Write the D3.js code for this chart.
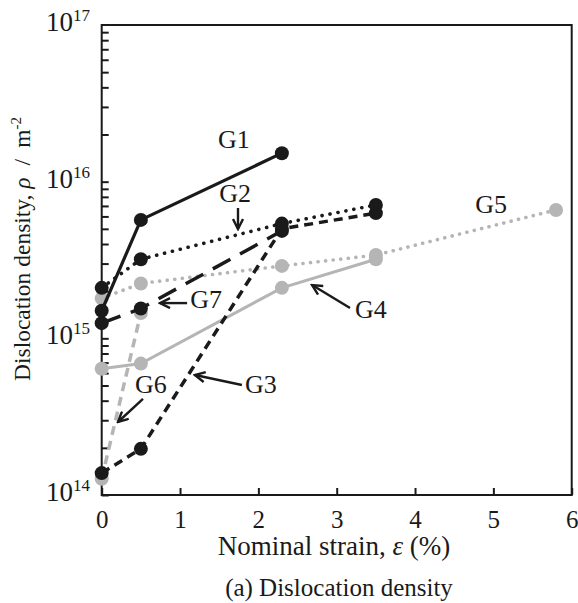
<!DOCTYPE html>
<html>
<head>
<meta charset="utf-8">
<script src="https://cdn.jsdelivr.net/npm/d3@7/dist/d3.min.js"></script>
<style>
  body { margin: 0; background: #fff; }
  text { font-family: "Liberation Serif", "Times New Roman", serif; fill: #1a1a1a; }
  .axis path, .axis line { stroke: #1a1a1a; stroke-width: 2; }
</style>
</head>
<body>
<svg width="578" height="603"></svg>
<script>
// strain (%) and dislocation density (m^-2)
var g1Strain = [0, 0.5, 2.3],            g1Rho = [1.5e15, 5.7e15, 1.52e16];
var g2Strain = [0, 0.5, 2.3, 3.5],       g2Rho = [2.1e15, 3.2e15, 5.4e15, 7.1e15];
var g3Strain = [0, 0.5, 2.3, 3.5],       g3Rho = [1.38e14, 1.97e14, 5.0e15, 6.3e15];
var g4Strain = [0, 0.5, 2.3, 3.5],       g4Rho = [6.4e14, 6.9e14, 2.1e15, 3.2e15];
var g5Strain = [0, 0.5, 2.3, 3.5, 5.8],  g5Rho = [1.8e15, 2.24e15, 2.9e15, 3.4e15, 6.6e15];
var g6Strain = [0, 0.5],                 g6Rho = [1.27e14, 1.45e15];
var g7Strain = [0, 0.5, 2.3],            g7Rho = [1.25e15, 1.55e15, 4.85e15];

var xTicks = [0, 1, 2, 3, 4, 5, 6];
var yMajor = [14, 15, 16, 17];   // exponents

// label positions (strain, log10 rho)
var labelNames  = ["G1", "G2", "G3", "G4", "G5", "G6", "G7"];
var labelStrain = [1.485, 1.50, 1.83, 3.235, 4.77, 0.425, 1.13];
var labelLog    = [16.214, 15.87, 14.651, 15.13, 15.80, 14.651, 15.193];

// arrows: from (strain, log) to (strain, log)
var arrowFromStrain = [1.74, 1.09, 3.17, 1.79, 0.527];
var arrowFromLog    = [15.832, 15.225, 15.193, 14.702, 14.613];
var arrowToStrain   = [1.74, 0.745, 2.686, 1.19, 0.208];
var arrowToLog      = [15.698, 15.225, 15.34, 14.766, 14.466];

var svg = d3.select("svg"),
    margin = {top: 25, left: 101.7},
    width = 470, height = 470;

var black = "#1a1a1a", grey = "#b5b5b5";

var x = d3.scaleLinear().domain([0, 6]).range([margin.left, margin.left + width]),
    y = d3.scaleLog().domain([1e14, 1e17]).range([margin.top + height, margin.top]);

//series table, grey first so black sits on top
var series = [
  {id: "G4", s: g4Strain, r: g4Rho, color: grey,  dash: null,      w: 3},
  {id: "G5", s: g5Strain, r: g5Rho, color: grey,  dash: "0.1,7.5", w: 3.6},
  {id: "G6", s: g6Strain, r: g6Rho, color: grey,  dash: "9,6",     w: 3.5},
  {id: "G1", s: g1Strain, r: g1Rho, color: black, dash: null,      w: 3.2},
  {id: "G2", s: g2Strain, r: g2Rho, color: black, dash: "0.1,8",   w: 3.6},
  {id: "G7", s: g7Strain, r: g7Rho, color: black, dash: "20,11",   w: 3.5},
  {id: "G3", s: g3Strain, r: g3Rho, color: black, dash: "9,6",     w: 3.5}
];
series.forEach(function(d) {
  d.values = d.s.map(function(v, i) { return {strain: v, rho: d.r[i]}; });
});

var line = d3.line()
    .x(function(d) { return x(d.strain); })
    .y(function(d) { return y(d.rho); });

//frame
svg.append("rect")
    .attr("x", x(0)).attr("y", y(1e17))
    .attr("width", x(6) - x(0)).attr("height", y(1e14) - y(1e17))
    .attr("fill", "none").attr("stroke", black).attr("stroke-width", 2);

//x axis, inward ticks
var xAxis = svg.append("g")
    .attr("class", "axis")
    .attr("transform", "translate(0," + y(1e14) + ")")
    .call(d3.axisBottom(x).tickValues(xTicks).tickSizeInner(-7).tickSizeOuter(0).tickPadding(15).tickFormat(d3.format("d")));
xAxis.select(".domain").remove();
xAxis.attr("font-family", null).attr("font-size", null);
xAxis.selectAll("text")
    .attr("fill", black)
    .style("font-family", "'Liberation Serif', serif")
    .style("font-size", "25px");

//y axis minor ticks
var yMinor = [];
[14, 15, 16].forEach(function(e) {
  for (var m = 1; m < 10; m++) yMinor.push(m * Math.pow(10, e));
});
var yAxis = svg.append("g")
    .attr("class", "axis")
    .attr("transform", "translate(" + x(0) + ",0)")
    .call(d3.axisLeft(y).tickValues(yMinor).tickSizeInner(-7).tickSizeOuter(0).tickFormat(""));
yAxis.select(".domain").remove();

//y tick labels 10^n
var yl = svg.append("g").selectAll("text")
    .data(yMajor).enter().append("text")
    .attr("x", 46)
    .attr("y", function(d) { return y(Math.pow(10, d)) + 6; })
    .style("font-size", "27px");
yl.append("tspan").text("10");
yl.append("tspan").attr("dy", -10).style("font-size", "17px").text(function(d) { return d; });

//lines
var grp = svg.selectAll(".series")
    .data(series).enter().append("g")
    .attr("class", "series");

grp.append("path")
    .attr("d", function(d) { return line(d.values); })
    .attr("fill", "none")
    .attr("stroke", function(d) { return d.color; })
    .attr("stroke-width", function(d) { return d.w; })
    .attr("stroke-dasharray", function(d) { return d.dash; })
    .attr("stroke-linecap", function(d) { return d.dash && d.dash.indexOf("0.1") === 0 ? "round" : "butt"; });

grp.selectAll("circle")
    .data(function(d) { return d.values.map(function(v) { return {v: v, color: d.color}; }); })
    .enter().append("circle")
    .attr("cx", function(d) { return x(d.v.strain); })
    .attr("cy", function(d) { return y(d.v.rho); })
    .attr("r", 7)
    .attr("fill", function(d) { return d.color; });

//arrowhead
svg.append("defs").append("marker")
    .attr("id", "arrow")
    .attr("viewBox", "-12 -6 14 12")
    .attr("markerWidth", 14).attr("markerHeight", 12)
    .attr("markerUnits", "userSpaceOnUse")
    .attr("orient", "auto")
    .append("path")
    .attr("d", "M-10,-5 L0,0 L-10,5")
    .attr("fill", "none").attr("stroke", black).attr("stroke-width", 2.4);

svg.append("g").selectAll("line")
    .data(arrowFromStrain).enter().append("line")
    .attr("x1", function(d, i) { return x(d); })
    .attr("y1", function(d, i) { return y(Math.pow(10, arrowFromLog[i])); })
    .attr("x2", function(d, i) { return x(arrowToStrain[i]); })
    .attr("y2", function(d, i) { return y(Math.pow(10, arrowToLog[i])); })
    .attr("stroke", black).attr("stroke-width", 2.4)
    .attr("marker-end", "url(#arrow)");

//series labels
svg.append("g").selectAll("text")
    .data(labelNames).enter().append("text")
    .attr("x", function(d, i) { return x(labelStrain[i]); })
    .attr("y", function(d, i) { return y(Math.pow(10, labelLog[i])); })
    .style("font-size", "26px")
    .text(function(d) { return d; });

//axis titles
var xt = svg.append("text")
    .attr("x", 334).attr("y", 555)
    .attr("text-anchor", "middle")
    .style("font-size", "27px");
xt.append("tspan").text("Nominal strain, ");
xt.append("tspan").style("font-style", "italic").text("ε");
xt.append("tspan").text(" (%)");

svg.append("text")
    .attr("x", 339).attr("y", 596)
    .attr("text-anchor", "middle")
    .style("font-size", "25px")
    .text("(a) Dislocation density");

var ytl = svg.append("text")
    .attr("transform", "translate(30,381) rotate(-90)")
    .style("font-size", "23.5px");
ytl.append("tspan").text("Dislocation density, ");
ytl.append("tspan").style("font-style", "italic").text("ρ");
ytl.append("tspan").attr("dx", 12).text("/");
ytl.append("tspan").attr("dx", 11).text("m");
ytl.append("tspan").attr("dy", -9).style("font-size", "15px").text("-2");
</script>
</body>
</html>
